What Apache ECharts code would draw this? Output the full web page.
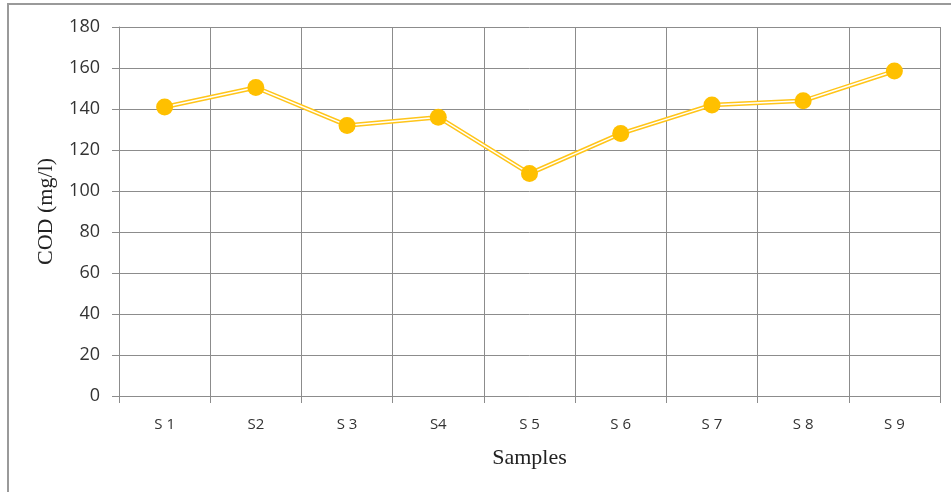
<!DOCTYPE html>
<html><head><meta charset="utf-8">
<script src="https://cdn.jsdelivr.net/npm/echarts@6/dist/echarts.min.js"></script>
<style>html,body{margin:0;padding:0;background:#fff}#c{width:951px;height:492px}</style>
</head><body><div id="c"></div>
<script>
const categories = ['S 1','S2','S 3','S4','S 5','S 6','S 7','S 8','S 9'];
const codValues = [141, 150.5, 132, 136, 108.5, 128, 142, 144, 158.5];
const yTicks = {min: 0, max: 180, interval: 20};

const chart = echarts.init(document.getElementById('c'));
chart.setOption({
  animation: false,
  backgroundColor: '#fff',
  graphic: [
    {type: 'rect', shape: {x: 8, y: 4, width: 1000, height: 600}, style: {fill: 'none', stroke: '#9a9a9a', lineWidth: 2}, silent: true}
  ],
  grid: {left: 119, right: 11, top: 27, bottom: 96},
  xAxis: {
    type: 'category', data: categories, boundaryGap: true,
    name: 'Samples', nameLocation: 'middle', nameGap: 51,
    nameTextStyle: {fontFamily: 'Liberation Serif', fontSize: 22, color: '#222'},
    axisLine: {lineStyle: {color: '#8c8c8c', width: 1}},
    axisTick: {show: true, length: 7, lineStyle: {color: '#8c8c8c'}},
    axisLabel: {margin: 21, fontFamily: 'Open Sans', fontSize: 15, color: '#333'},
    splitLine: {show: true, lineStyle: {color: '#8c8c8c', width: 1}}
  },
  yAxis: {
    type: 'value', min: yTicks.min, max: yTicks.max, interval: yTicks.interval,
    name: 'COD (mg/l)', nameLocation: 'middle', nameGap: 62, nameRotate: 90,
    nameTextStyle: {fontFamily: 'Liberation Serif', fontSize: 22, color: '#222'},
    axisLine: {show: true, lineStyle: {color: '#8c8c8c', width: 1}},
    axisTick: {show: true, length: 7, lineStyle: {color: '#8c8c8c'}},
    axisLabel: {margin: 19, fontFamily: 'Open Sans', fontSize: 18, color: '#333'},
    splitLine: {show: true, lineStyle: {color: '#8c8c8c', width: 1}}
  },
  series: [
    {type: 'line', data: codValues, symbol: 'none', z: 2,
     lineStyle: {color: '#FFC51A', width: 4.5}},
    {type: 'line', data: codValues, symbol: 'none', z: 3,
     lineStyle: {color: '#ffffff', width: 1.5}},
    {type: 'line', data: codValues, symbol: 'circle', symbolSize: 17, z: 4,
     lineStyle: {width: 0, opacity: 0},
     itemStyle: {color: '#FFC000', borderWidth: 0}}
  ]
});
</script></body></html>
